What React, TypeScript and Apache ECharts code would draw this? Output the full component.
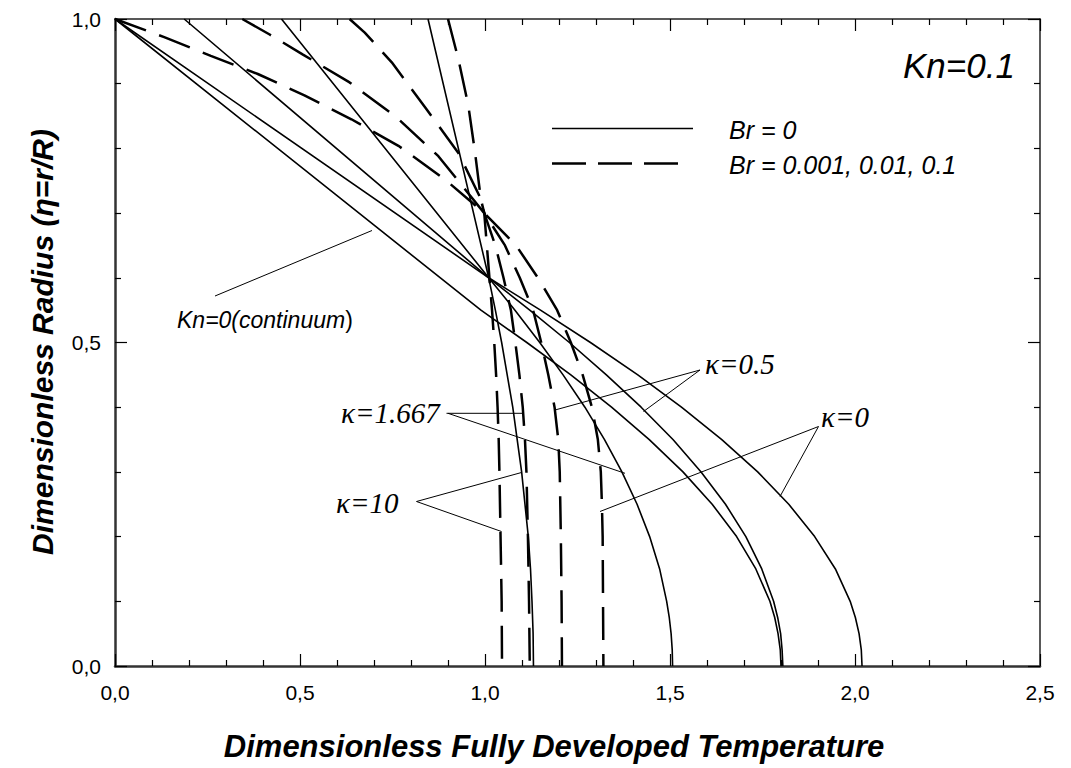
import React, { useEffect, useRef } from "react";
import * as echarts from "echarts";

// ---- data: [temperature, eta] pairs ----
// Br = 0, Kn = 0.1
const solidKappa0: [number, number][] = [
  [0, 1], [1.010, 0.6], [1.150, 0.55], [1.285, 0.5], [1.413, 0.45], [1.531, 0.4],
  [1.640, 0.35], [1.737, 0.3], [1.821, 0.25], [1.891, 0.2], [1.947, 0.15],
  [1.987, 0.1], [2.001, 0.075], [2.011, 0.05], [2.017, 0.025], [2.019, 0],
];
const solidKappa05: [number, number][] = [
  [0.187, 1], [1.010, 0.6], [1.121, 0.55], [1.228, 0.5], [1.328, 0.45], [1.422, 0.4],
  [1.508, 0.35], [1.584, 0.3], [1.650, 0.25], [1.705, 0.2], [1.748, 0.15],
  [1.780, 0.1], [1.791, 0.075], [1.799, 0.05], [1.803, 0.025], [1.805, 0],
];
const solidKappa1667: [number, number][] = [
  [0.45, 1], [1.010, 0.6], [1.081, 0.55], [1.148, 0.5], [1.211, 0.45], [1.270, 0.4],
  [1.323, 0.35], [1.370, 0.3], [1.411, 0.25], [1.445, 0.2], [1.472, 0.15],
  [1.491, 0.1], [1.498, 0.075], [1.503, 0.05], [1.506, 0.025], [1.507, 0],
];
const solidKappa10: [number, number][] = [
  [0.846, 1], [1.010, 0.6], [1.028, 0.55], [1.045, 0.5], [1.060, 0.45], [1.075, 0.4],
  [1.087, 0.35], [1.099, 0.3], [1.108, 0.25], [1.117, 0.2], [1.123, 0.15],
  [1.127, 0.1], [1.130, 0.05], [1.131, 0],
];
// Kn = 0 (continuum)
const solidContinuum: [number, number][] = [
  [0, 1], [0.989, 0.55], [1.113, 0.5], [1.232, 0.45], [1.342, 0.4], [1.444, 0.35],
  [1.535, 0.3], [1.614, 0.25], [1.680, 0.2], [1.732, 0.15], [1.770, 0.1],
  [1.783, 0.075], [1.792, 0.05], [1.798, 0.025], [1.800, 0],
];
// Br = 0.001, 0.01, 0.1
const dashedKappa0: [number, number][] = [
  [0, 1], [0.133, 0.972], [0.259, 0.943], [0.386, 0.915], [0.512, 0.882],
  [0.639, 0.845], [0.766, 0.804], [0.892, 0.752], [0.998, 0.70],
  [1.084, 0.65], [1.143, 0.6], [1.195, 0.55], [1.232, 0.5], [1.264, 0.45],
  [1.289, 0.4], [1.305, 0.35], [1.313, 0.3], [1.316, 0.25], [1.318, 0.2],
  [1.319, 0.1], [1.320, 0],
];
const dashedKappa05: [number, number][] = [
  [0.344, 1], [0.418, 0.976], [0.508, 0.945], [0.634, 0.902], [0.761, 0.848],
  [0.874, 0.788], [0.998, 0.70],
  [1.054, 0.65], [1.094, 0.6], [1.130, 0.55], [1.152, 0.5], [1.171, 0.45],
  [1.188, 0.4], [1.198, 0.35], [1.202, 0.3], [1.205, 0.2], [1.207, 0.1], [1.208, 0],
];
const dashedKappa1667: [number, number][] = [
  [0.634, 1], [0.675, 0.979], [0.748, 0.933], [0.840, 0.862], [0.928, 0.793],
  [0.987, 0.724], [0.998, 0.70],
  [1.028, 0.65], [1.050, 0.6], [1.070, 0.55], [1.082, 0.5], [1.093, 0.45],
  [1.102, 0.4], [1.108, 0.35], [1.112, 0.3], [1.116, 0.2], [1.119, 0.1], [1.121, 0],
];
const dashedKappa10: [number, number][] = [
  [0.90, 1], [0.928, 0.938], [0.955, 0.866], [0.973, 0.794], [0.989, 0.721], [0.998, 0.70],
  [1.005, 0.65], [1.012, 0.6], [1.019, 0.55], [1.025, 0.5], [1.030, 0.45],
  [1.034, 0.4], [1.037, 0.35], [1.039, 0.3], [1.042, 0.2], [1.045, 0.1], [1.046, 0],
];

// tick values (labels are written with a decimal comma)
const xTicks = [0, 0.5, 1.0, 1.5, 2.0, 2.5];
const yTicks = [0, 0.5, 1.0];

const xRange = { min: 0, max: 2.5, interval: 0.5 };
const yRange = { min: 0, max: 1, interval: 0.5 };

const SANS = '"Liberation Sans", Arial, sans-serif';
const SERIF = '"Liberation Serif", "Times New Roman", serif';
const DASH = [33, 14];

const fmt = (v: number) => v.toFixed(1).replace(".", ",");

function solid(data: [number, number][]) {
  return {
    type: "line",
    data,
    symbol: "none",
    showSymbol: false,
    silent: true,
    lineStyle: { color: "#000", width: 1.6, type: "solid" },
  };
}
function dashed(data: [number, number][]) {
  return {
    type: "line",
    data,
    symbol: "none",
    showSymbol: false,
    silent: true,
    lineStyle: { color: "#000", width: 2.5, type: DASH },
  };
}

function axisCommon(main: boolean) {
  return {
    type: "value",
    splitLine: { show: false },
    minorSplitLine: { show: false },
    axisLabel: { show: false },
    axisLine: { show: true, onZero: false, lineStyle: { color: main ? "#333" : "#222", width: main ? 2.5 : 1.5 } },
    axisTick: { show: true, inside: true, length: 12, lineStyle: { color: "#000", width: 1.2 } },
    minorTick: { show: true, splitNumber: 5, length: 6, lineStyle: { color: "#000", width: 1.2 } },
  };
}

function leader(x1: number, y1: number, x2: number, y2: number) {
  return { type: "line", shape: { x1, y1, x2, y2 }, style: { stroke: "#000", lineWidth: 1 }, silent: true };
}
function label(text: string, x: number, y: number, font: string, size: number, style: string, weight = "normal", align = "left") {
  return {
    type: "text",
    x,
    y,
    silent: true,
    style: {
      text,
      fill: "#000",
      fontFamily: font,
      fontSize: size,
      fontStyle: style,
      fontWeight: weight,
      align,
      verticalAlign: "middle",
    },
  };
}

const staticGraphics: any[] = [
  // axis titles
  {
    type: "text",
    x: 554,
    y: 746,
    silent: true,
    style: {
      text: "Dimensionless Fully Developed Temperature",
      fill: "#000",
      fontFamily: SANS,
      fontSize: 31,
      fontStyle: "italic",
      fontWeight: "bold",
      align: "center",
      verticalAlign: "middle",
    },
  },
  {
    type: "text",
    x: 42,
    y: 342,
    rotation: Math.PI / 2,
    silent: true,
    style: {
      text: "Dimensionless Radius (\u03b7=r/R)",
      fill: "#000",
      fontFamily: SANS,
      fontSize: 30,
      fontStyle: "italic",
      fontWeight: "bold",
      align: "center",
      verticalAlign: "middle",
    },
  },
  // Kn label
  label("Kn=0.1", 903, 65, SANS, 35, "italic"),
  // legend
  { type: "line", shape: { x1: 552, y1: 128.5, x2: 693, y2: 128.5 }, style: { stroke: "#000", lineWidth: 1.6 }, silent: true },
  { type: "line", shape: { x1: 552, y1: 163.5, x2: 680, y2: 163.5 }, style: { stroke: "#000", lineWidth: 2.5, lineDash: [34, 12] }, silent: true },
  label("Br = 0", 729, 130, SANS, 25, "italic"),
  label("Br = 0.001, 0.01, 0.1", 729, 165, SANS, 25, "italic"),
  // continuum label
  {
    type: "text",
    x: 177,
    y: 320,
    silent: true,
    style: {
      text: "{i|Kn=0(continuum}{n|)}",
      fill: "#000",
      align: "left",
      verticalAlign: "middle",
      rich: {
        i: { fontFamily: SANS, fontSize: 23, fontStyle: "italic", fill: "#000" },
        n: { fontFamily: SANS, fontSize: 23, fontStyle: "normal", fill: "#000" },
      },
    },
  },
  leader(215, 296, 372, 230.5),
  // kappa labels
  label("\u03ba=0.5", 705, 364, SERIF, 29, "italic"),
  leader(700, 370, 555, 410),
  leader(700, 370, 643.5, 411.5),
  label("\u03ba=0", 821, 417, SERIF, 29, "italic"),
  leader(818.5, 426.5, 600, 511.5),
  leader(818.5, 426.5, 780, 496.5),
  label("\u03ba=1.667", 341, 413, SERIF, 29, "italic"),
  leader(446.5, 413.3, 523.5, 413.3),
  leader(448, 413.3, 625, 473.3),
  label("\u03ba=10", 336, 503, SERIF, 29, "italic"),
  leader(416.5, 501.5, 521.5, 472.5),
  leader(416.5, 501.5, 501.5, 531.5),
];

export default function App() {
  const ref = useRef<HTMLDivElement>(null);
  useEffect(() => {
    if (!ref.current) return;
    const chart = echarts.init(ref.current, undefined, { renderer: "svg" });
    const option: any = {
      animation: false,
      backgroundColor: "#fff",
      grid: { left: 115, top: 19, width: 925, height: 647 },
      xAxis: [
        { ...axisCommon(true), ...xRange, position: "bottom" },
        { ...axisCommon(false), ...xRange, position: "top" },
      ],
      yAxis: [
        { ...axisCommon(true), ...yRange, position: "left" },
        { ...axisCommon(false), ...yRange, position: "right" },
      ],
      series: [
        solid(solidContinuum),
        solid(solidKappa0),
        solid(solidKappa05),
        solid(solidKappa1667),
        solid(solidKappa10),
        dashed(dashedKappa0),
        dashed(dashedKappa05),
        dashed(dashedKappa1667),
        dashed(dashedKappa10),
      ],
    };
    chart.setOption(option);

    // tick labels placed through the chart's own axis scales
    const tickLabels: any[] = [];
    xTicks.forEach((v) => {
      const p = chart.convertToPixel({ xAxisIndex: 0, yAxisIndex: 0 }, [v, yRange.min]) as number[];
      tickLabels.push(label(fmt(v), p[0], p[1] + 26, SANS, 21, "normal", "normal", "center"));
    });
    yTicks.forEach((v) => {
      const p = chart.convertToPixel({ xAxisIndex: 0, yAxisIndex: 0 }, [xRange.min, v]) as number[];
      tickLabels.push(label(fmt(v), p[0] - 14, p[1], SANS, 21, "normal", "normal", "right"));
    });
    chart.setOption({ graphic: [...staticGraphics, ...tickLabels] });
    return () => chart.dispose();
  }, []);
  return (
    <div
      ref={ref}
      style={{ position: "absolute", left: 0, top: 0, width: 1071, height: 768, background: "#fff" }}
    />
  );
}
